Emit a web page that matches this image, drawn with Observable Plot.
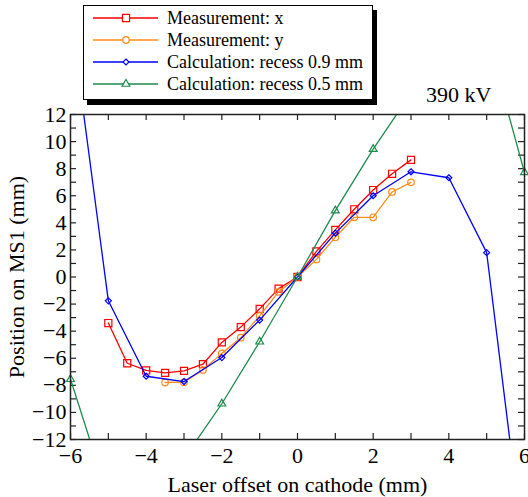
<!DOCTYPE html>
<html>
<head>
<meta charset="utf-8">
<script src="https://cdn.jsdelivr.net/npm/d3@7"></script>
<script src="https://cdn.jsdelivr.net/npm/@observablehq/plot@0.6"></script>
<style>
  html, body { margin: 0; padding: 0; background: #fff; }
  #wrap { position: relative; width: 528px; height: 497px; font-family: "Liberation Serif", "DejaVu Serif", serif; }
  #legend { position: absolute; left: 83px; top: 5px; width: 290px; height: 95px; border: 1px solid #000; background: #fff; box-shadow: 4px 5px 0 #000; box-sizing: border-box; }
  .row { position: absolute; left: 0; height: 22px; width: 100%; }
  .row svg { position: absolute; left: 8px; top: 0; }
  .row span { position: absolute; left: 83px; top: 0; line-height: 22px; font-size: 18px; color: #000; white-space: nowrap; }
</style>
</head>
<body>
<div id="wrap"><div id="legend"></div></div>
<script>
// ---- data ----
const seriesNames = ["Measurement: x", "Measurement: y", "Calculation: recess 0.9 mm", "Calculation: recess 0.5 mm"];
const seriesColors = ["#ff0000", "#ff8c1a", "#0000ff", "#1e8a4c"];
const seriesSymbols = ["square", "circle", "diamond2", "triangle"];

const measXOffsets = [-5, -4.5, -4, -3.5, -3, -2.5, -2, -1.5, -1, -0.5, 0, 0.5, 1, 1.5, 2, 2.5, 3];
const measXValues  = [-3.4, -6.37, -6.9, -7.08, -6.93, -6.44, -4.83, -3.7, -2.35, -0.86, 0, 1.89, 3.48, 5.0, 6.42, 7.62, 8.65];

const measYOffsets = [-3.5, -3, -2.5, -2, -1.5, -1, -0.5, 0, 0.5, 1, 1.5, 2, 2.5, 3];
const measYValues  = [-7.79, -7.77, -6.86, -5.64, -4.48, -2.87, -1.1, 0, 1.3, 2.94, 4.41, 4.41, 6.28, 6.99];

const calcOffsets   = [-6, -5, -4, -3, -2, -1, 0, 1, 2, 3, 4, 5, 6];
const calc09Values  = [19.4, -1.76, -7.33, -7.72, -5.95, -3.18, 0, 3.24, 6.0, 7.77, 7.33, 1.8, -20.8];
const calc05Values  = [-7.55, -16.3, -17, -13.4, -9.36, -4.78, 0, 4.9, 9.44, 13.57, 18.5, 17.9, 7.72];

const xTicks = [-6, -4, -2, 0, 2, 4, 6];
const yTicks = [-12, -10, -8, -6, -4, -2, 0, 2, 4, 6, 8, 10, 12];
const xMinorTicks = d3.range(-6, 7, 1);
const yMinorTicks = d3.range(-12, 13, 1);

const titleText = "390 kV";
const xLabel = "Laser offset on cathode (mm)";
const yLabel = "Position on MS1 (mm)";

// ---- build ----
function mk(xs, ys) { return xs.map((x, i) => ({x, y: ys[i]})); }
const series = [
  mk(measXOffsets, measXValues),
  mk(measYOffsets, measYValues),
  mk(calcOffsets, calc09Values),
  mk(calcOffsets, calc05Values)
];
const symR = [4, 3.3, 2.7, 2.9];
const fmt = d => d < 0 ? "\u2212" + Math.abs(d) : String(d);

const W = 528, H = 497, mL = 70, mR = 4, mT = 114, mB = 58;
const innerH = H - mT - mB, innerW = W - mL - mR;

const marks = [];
// inside ticks on four sides
marks.push(Plot.tickX(xMinorTicks, {x: d => d, insetTop: innerH - 6, stroke: "#222", strokeWidth: 1.2}));
marks.push(Plot.tickX(xMinorTicks, {x: d => d, insetBottom: innerH - 6, stroke: "#222", strokeWidth: 1.2}));
marks.push(Plot.tickY(yMinorTicks, {y: d => d, insetRight: innerW - 6, stroke: "#222", strokeWidth: 1.2}));
marks.push(Plot.tickY(yMinorTicks, {y: d => d, insetLeft: innerW - 6, stroke: "#222", strokeWidth: 1.2}));

series.forEach((data, i) => {
  marks.push(Plot.line(data, {x: "x", y: "y", stroke: seriesColors[i], strokeWidth: 1.3, clip: true}));
  marks.push(Plot.dot(data, {x: "x", y: "y", stroke: seriesColors[i], fill: "none", symbol: seriesSymbols[i], r: symR[i], strokeWidth: 1.2, filter: d => Math.abs(d.y) <= 12.2 && Math.abs(d.x) <= 6}));
});

marks.push(Plot.frame({stroke: "#222", strokeWidth: 1.5}));
marks.push(Plot.axisX({ticks: xTicks, tickSize: 0, tickPadding: 8, tickFormat: fmt, fontSize: 22,
  label: xLabel, labelAnchor: "center", labelArrow: "none", labelOffset: 52}));
marks.push(Plot.axisY({ticks: yTicks, tickSize: 0, tickPadding: 4, tickFormat: fmt, fontSize: 22,
  label: yLabel, labelAnchor: "center", labelArrow: "none", labelOffset: 62}));
marks.push(Plot.text([titleText], {text: d => d, frameAnchor: "top-right", textAnchor: "end", lineAnchor: "bottom", dx: -33, dy: -13, fontSize: 22, fill: "#000"}));

const chart = Plot.plot({
  width: W, height: H,
  marginLeft: mL, marginRight: mR, marginTop: mT, marginBottom: mB,
  style: {fontFamily: "Liberation Serif", fontSize: "22px", color: "#000", background: "#fff", overflow: "visible"},
  x: {domain: [-6, 6]},
  y: {domain: [-12, 12]},
  marks
});
chart.style.position = "absolute";
chart.style.left = "0px";
chart.style.top = "0px";
const wrap = document.getElementById("wrap");
wrap.insertBefore(chart, wrap.firstChild);

// legend
const legend = document.getElementById("legend");
const rowTops = [6, 28, 50, 72];
seriesNames.forEach((name, i) => {
  const row = document.createElement("div");
  row.className = "row";
  row.style.top = (rowTops[i] - 5) + "px";
  const svg = d3.create("svg").attr("width", 70).attr("height", 22);
  svg.append("line").attr("x1", 1).attr("x2", 66).attr("y1", 11).attr("y2", 11)
    .attr("stroke", seriesColors[i]).attr("stroke-width", 1.3);
  const symMap = {square: d3.symbolSquare, circle: d3.symbolCircle, diamond2: d3.symbolDiamond2, triangle: d3.symbolTriangle};
  svg.append("path").attr("transform", "translate(34,11)")
    .attr("d", d3.symbol(symMap[seriesSymbols[i]], Math.PI * symR[i] * symR[i])())
    .attr("fill", "#fff").attr("stroke", seriesColors[i]).attr("stroke-width", 1.2);
  row.appendChild(svg.node());
  const sp = document.createElement("span");
  sp.textContent = name;
  row.appendChild(sp);
  legend.appendChild(row);
});
</script>
</body>
</html>
